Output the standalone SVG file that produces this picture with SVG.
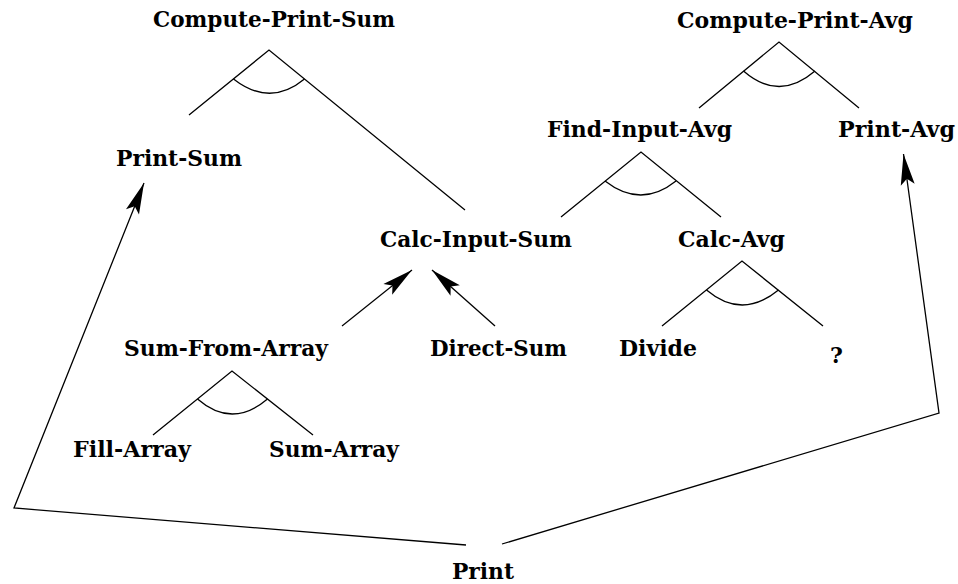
<svg xmlns="http://www.w3.org/2000/svg" width="958" height="584" viewBox="0 0 958 584">
<style>
text{font-family:"DejaVu Serif","Liberation Serif",serif;font-weight:bold;font-size:22px;fill:#000}
.ln{fill:none;stroke:#000;stroke-width:1.3;stroke-linejoin:miter}
.ar{fill:none;stroke:#000;stroke-width:1.3;marker-end:url(#ah)}
</style>
<defs>
<marker id="ah" markerUnits="userSpaceOnUse" markerWidth="36" markerHeight="18" viewBox="-33 -9 36 18" refX="0" refY="0" orient="auto">
<path d="M0,0 L-31,-7 L-25,0 L-31,7 Z" fill="#000"/>
</marker>
</defs>
<rect width="958" height="584" fill="#fff"/>
<g id="connectors">
<path class="ln" d="M189,115 L269,50 L465,210"/>
<path class="ln" d="M233.5,79 Q270,107.5 304.5,79"/>
<path class="ln" d="M699,108 L779,42 L859,108"/>
<path class="ln" d="M743.5,71 Q779,102 815,71"/>
<path class="ln" d="M561,217 L641,152 L721,217"/>
<path class="ln" d="M605,181 Q641,209 676,181"/>
<path class="ln" d="M662,326 L742,261 L823,326"/>
<path class="ln" d="M706.5,290 Q742,320 778.5,290"/>
<path class="ln" d="M153,435 L232,371 L313,435"/>
<path class="ln" d="M197.5,399 Q232,429 267.5,399"/>
<path class="ar" d="M342,326 L412,270"/>
<path class="ar" d="M495,326 L432,270"/>
<path class="ar" d="M466,545 L14,508 L144,183"/>
<path class="ar" d="M502,544 L939,413 L903.5,154"/>
</g>
<g id="compute-print-sum"><text x="153" y="27" textLength="242" lengthAdjust="spacingAndGlyphs">Compute-Print-Sum</text></g>
<g id="compute-print-avg"><text x="677" y="28" textLength="236" lengthAdjust="spacingAndGlyphs">Compute-Print-Avg</text></g>
<g id="print-sum"><text x="116" y="166" textLength="126" lengthAdjust="spacingAndGlyphs">Print-Sum</text></g>
<g id="find-input-avg"><text x="547" y="137" textLength="185" lengthAdjust="spacingAndGlyphs">Find-Input-Avg</text></g>
<g id="print-avg"><text x="838" y="137" textLength="117" lengthAdjust="spacingAndGlyphs">Print-Avg</text></g>
<g id="calc-input-sum"><text x="380" y="247" textLength="192" lengthAdjust="spacingAndGlyphs">Calc-Input-Sum</text></g>
<g id="calc-avg"><text x="678" y="247" textLength="107" lengthAdjust="spacingAndGlyphs">Calc-Avg</text></g>
<g id="sum-from-array"><text x="124" y="356" textLength="204" lengthAdjust="spacingAndGlyphs">Sum-From-Array</text></g>
<g id="direct-sum"><text x="430" y="356" textLength="137" lengthAdjust="spacingAndGlyphs">Direct-Sum</text></g>
<g id="divide"><text x="619" y="356" textLength="78" lengthAdjust="spacingAndGlyphs">Divide</text></g>
<g id="unknown"><text x="830" y="363" font-size="20">?</text></g>
<g id="fill-array"><text x="73" y="457" textLength="118" lengthAdjust="spacingAndGlyphs">Fill-Array</text></g>
<g id="sum-array"><text x="269" y="457" textLength="130" lengthAdjust="spacingAndGlyphs">Sum-Array</text></g>
<g id="print"><text x="452" y="579" textLength="62" lengthAdjust="spacingAndGlyphs">Print</text></g>
</svg>
